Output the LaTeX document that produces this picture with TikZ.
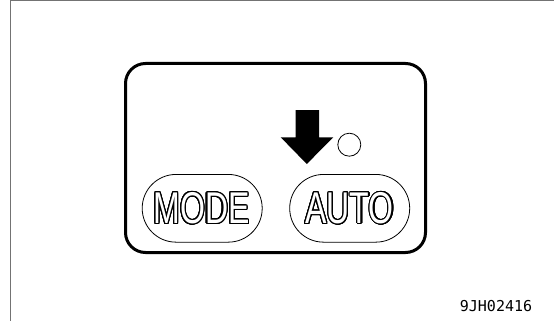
\documentclass[tikz,border=0pt]{standalone}
\usepackage{fontspec}
\usepackage[copies]{contour}
\contourlength{1.1pt}
\contournumber{24}
\newfontfamily\btnfont[FakeStretch=0.72]{Liberation Sans}
\newfontfamily\codefont{DejaVu Sans Mono}
\tikzset{
  frameline/.style={draw=black!55, line width=1pt},
  panel/.style={draw, line width=3pt, rounded corners=20pt, minimum width=300pt, minimum height=189pt, inner sep=0pt},
  pill/.style={draw, line width=0.8pt, rounded corners=33.8pt, minimum width=120pt, minimum height=67.7pt, inner sep=0pt},
  btntext/.style={font=\btnfont\fontsize{44.5}{44.5}\selectfont, inner sep=0pt},
  lamp/.style={draw, circle, line width=0.8pt, minimum size=23pt, inner sep=0pt},
  code/.style={font=\codefont\fontsize{15}{15}\selectfont, inner sep=0pt}
}
\begin{document}
\begin{tikzpicture}[x=1pt,y=-1pt]
\useasboundingbox (0,0) rectangle (554,321);
\draw[frameline] (10,321) -- (10,0.5) -- (554,0.5);
\node[panel] (panel) at (275.5,158) {};
\node[pill] (modebtn) at (202.2,208.3) {};
\node[pill] (autobtn) at (349.7,208.3) {};
\node[btntext] (modetxt) at (201.5,208.7) {\contour{black}{\textcolor{white}{MODE}}};
\node[btntext] (autotxt) at (349.7,208.7) {\contour{black}{\textcolor{white}{AUTO}}};
\fill (295.7,110) -- (319,110) -- (319,137.3) -- (333.3,137.3) -- (306.8,164) -- (280.7,137.3) -- (295.7,137.3) -- cycle;
\node[lamp] (lamp) at (349.3,144.7) {};
\node[code] (code) at (496,306.5) {9JH02416};
\end{tikzpicture}
\end{document}
